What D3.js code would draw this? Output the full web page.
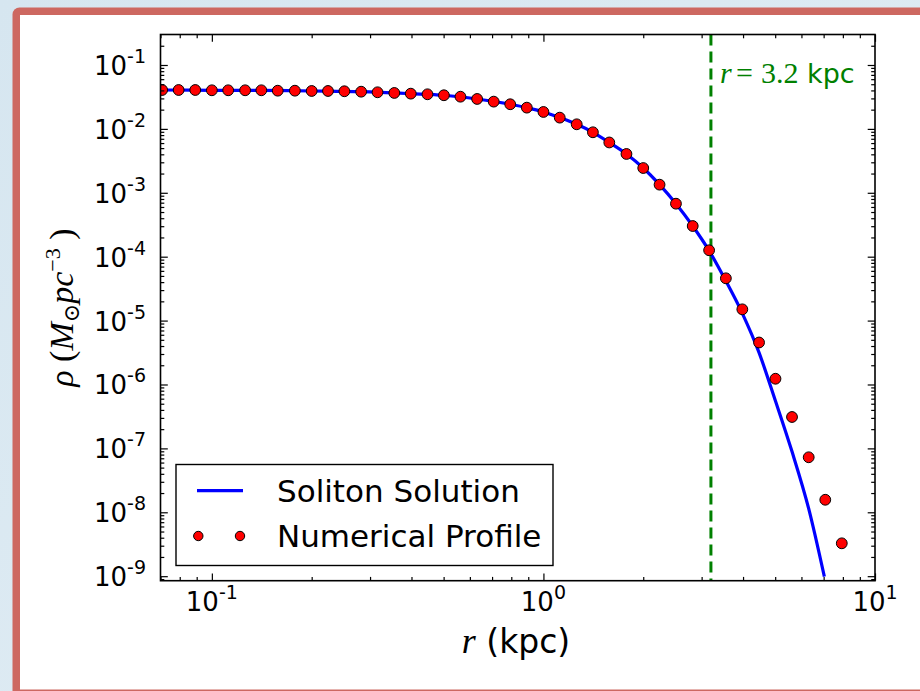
<!DOCTYPE html>
<html>
<head>
<meta charset="utf-8">
<script src="https://cdn.jsdelivr.net/npm/d3@7"></script>
<style>
  html, body { margin: 0; padding: 0; background: #dbe9f2; }
  svg { display: block; }
</style>
</head>
<body>
<svg id="chart" width="920" height="691"></svg>
<script>
// ---------------- data ----------------
const pointR = [0.0708, 0.0794, 0.0891, 0.1, 0.112, 0.126, 0.141, 0.158, 0.178, 0.2,
  0.224, 0.251, 0.282, 0.316, 0.355, 0.398, 0.447, 0.501, 0.562, 0.631,
  0.708, 0.794, 0.891, 1.0, 1.12, 1.26, 1.41, 1.58, 1.78, 2.0,
  2.24, 2.51, 2.82, 3.16, 3.55, 3.98, 4.47, 5.01, 5.62, 6.31, 7.08, 7.94];
const pointRho = [0.0406, 0.0406, 0.0406, 0.0402, 0.0402, 0.0402, 0.0402, 0.0396, 0.0396, 0.0392,
  0.0392, 0.0388, 0.0382, 0.0374, 0.0365, 0.0356, 0.0348, 0.0336, 0.0319, 0.0294,
  0.0267, 0.0243, 0.0215, 0.0184, 0.0150, 0.0118, 0.00885, 0.00613, 0.00405, 0.00244,
  0.00134, 6.75e-4, 3.02e-4, 1.26e-4, 4.59e-5, 1.50e-5, 4.54e-6, 1.23e-6, 3.10e-7, 7.26e-8, 1.57e-8, 3.27e-9];

const lineR = [0.063, 0.0708, 0.1, 0.141, 0.2, 0.282, 0.398, 0.501, 0.631, 0.794,
  0.891, 1.0, 1.12, 1.26, 1.41, 1.58, 1.78, 2.0, 2.24, 2.51, 2.82, 3.16,
  3.55, 3.98, 4.47, 5.01, 5.62, 6.31, 7.035];
const lineRho = [0.0406, 0.0406, 0.0402, 0.0400, 0.0392, 0.0382, 0.0356, 0.0336, 0.0294, 0.0243,
  0.0215, 0.0184, 0.0150, 0.0118, 0.00885, 0.00613, 0.00405, 0.00244, 0.00134, 6.75e-4, 3.02e-4, 1.24e-4,
  4.17e-5, 1.30e-5, 3.15e-6, 5.52e-7, 8.91e-8, 1.14e-8, 9.82e-10];

const xMajor = [0.1, 1, 10];
const xMajorExp = ["-1", "0", "1"];
const yMajor = [1e-1, 1e-2, 1e-3, 1e-4, 1e-5, 1e-6, 1e-7, 1e-8, 1e-9];
const yMajorExp = ["-1", "-2", "-3", "-4", "-5", "-6", "-7", "-8", "-9"];
const xDomain = [0.07, 10];
const yDomain = [8.5e-10, 0.3];
const cutR = 3.2;
const seriesNames = ["Soliton Solution", "Numerical Profile"];

// ---------------- layout ----------------
const svg = d3.select("#chart");
const M = { left: 160.5, right: 875, top: 34.5, bottom: 580.7 };

// background + framed panel
const defs = svg.append("defs");
const bg = defs.append("linearGradient").attr("id", "bgGrad").attr("x1", 0).attr("y1", 0).attr("x2", 1).attr("y2", 1);
bg.append("stop").attr("offset", "0%").attr("stop-color", "#d6e6f0");
bg.append("stop").attr("offset", "100%").attr("stop-color", "#e3eef5");
svg.append("rect").attr("width", 920).attr("height", 691).attr("fill", "url(#bgGrad)");
svg.append("rect").attr("x", 12.5).attr("y", 7.5).attr("width", 1000).attr("height", 690)
  .attr("rx", 7).attr("fill", "#cd6861");
svg.append("rect").attr("x", 20).attr("y", 15).attr("width", 1000).attr("height", 674.5)
  .attr("fill", "#ffffff");

const x = d3.scaleLog().domain(xDomain).range([M.left, M.right]);
const y = d3.scaleLog().domain(yDomain).range([M.bottom, M.top]);

defs.append("clipPath").attr("id", "plotClip").append("rect")
  .attr("x", M.left).attr("y", M.top).attr("width", M.right - M.left).attr("height", M.bottom - M.top);

const plot = svg.append("g").attr("clip-path", "url(#plotClip)");

// dashed vertical line r = 3.2 kpc
plot.append("line")
  .attr("x1", x(cutR)).attr("x2", x(cutR)).attr("y1", M.top).attr("y2", M.bottom)
  .attr("stroke", "#008000").attr("stroke-width", 3).attr("stroke-dasharray", "11,6");

// soliton line
const lineData = lineR.map((r, i) => [r, lineRho[i]]);
plot.append("path").datum(lineData)
  .attr("fill", "none").attr("stroke", "#0000ff").attr("stroke-width", 3.2)
  .attr("d", d3.line().x(d => x(d[0])).y(d => y(d[1])).curve(d3.curveMonotoneX));

// numerical points
const ptData = pointR.map((r, i) => [r, pointRho[i]]);
plot.selectAll("circle.pt").data(ptData).join("circle").attr("class", "pt")
  .attr("cx", d => x(d[0])).attr("cy", d => y(d[1])).attr("r", 5.4)
  .attr("fill", "#ff0000").attr("stroke", "#000").attr("stroke-width", 1);

// ---------------- axes (ticks inward on all sides) ----------------
function minorTicks(dom) {
  const out = [];
  const lo = Math.floor(Math.log10(dom[0])), hi = Math.ceil(Math.log10(dom[1]));
  for (let e = lo; e <= hi; e++) {
    for (let m = 2; m <= 9; m++) {
      const v = m * Math.pow(10, e);
      if (v >= dom[0] && v <= dom[1]) out.push(v);
    }
  }
  return out;
}
const xMinor = minorTicks(xDomain);
const yMinor = minorTicks(yDomain);
const majLen = 7.3, minLen = 3.8;

function styleAxis(g) {
  g.select(".domain").remove();
  g.selectAll(".tick line").attr("stroke", "#000").attr("stroke-width", 1.2);
  g.selectAll(".tick text").remove();
}
svg.append("g").attr("transform", `translate(0,${M.bottom})`)
  .call(d3.axisBottom(x).tickValues(xMajor).tickSize(-majLen).tickFormat("")).call(styleAxis);
svg.append("g").attr("transform", `translate(0,${M.bottom})`)
  .call(d3.axisBottom(x).tickValues(xMinor).tickSize(-minLen).tickFormat("")).call(styleAxis);
svg.append("g").attr("transform", `translate(0,${M.top})`)
  .call(d3.axisTop(x).tickValues(xMajor).tickSize(-majLen).tickFormat("")).call(styleAxis);
svg.append("g").attr("transform", `translate(0,${M.top})`)
  .call(d3.axisTop(x).tickValues(xMinor).tickSize(-minLen).tickFormat("")).call(styleAxis);
svg.append("g").attr("transform", `translate(${M.left},0)`)
  .call(d3.axisLeft(y).tickValues(yMajor).tickSize(-majLen).tickFormat("")).call(styleAxis);
svg.append("g").attr("transform", `translate(${M.left},0)`)
  .call(d3.axisLeft(y).tickValues(yMinor).tickSize(-minLen).tickFormat("")).call(styleAxis);
svg.append("g").attr("transform", `translate(${M.right},0)`)
  .call(d3.axisRight(y).tickValues(yMajor).tickSize(-majLen).tickFormat("")).call(styleAxis);
svg.append("g").attr("transform", `translate(${M.right},0)`)
  .call(d3.axisRight(y).tickValues(yMinor).tickSize(-minLen).tickFormat("")).call(styleAxis);

// frame
svg.append("rect").attr("x", M.left).attr("y", M.top)
  .attr("width", M.right - M.left).attr("height", M.bottom - M.top)
  .attr("fill", "none").attr("stroke", "#000").attr("stroke-width", 1.6);

// tick labels
const sans = "'DejaVu Sans', sans-serif";
xMajor.forEach((v, i) => {
  const t = svg.append("text").attr("x", x(v)).attr("y", 611).attr("text-anchor", "middle")
    .attr("font-family", sans).attr("font-size", 26).attr("fill", "#000");
  t.append("tspan").text("10");
  t.append("tspan").attr("font-size", 19).attr("dy", -12).text(xMajorExp[i]);
});
yMajor.forEach((v, i) => {
  const t = svg.append("text").attr("x", 146).attr("y", y(v) + 10).attr("text-anchor", "end")
    .attr("font-family", sans).attr("font-size", 26).attr("fill", "#000");
  t.append("tspan").text("10");
  t.append("tspan").attr("font-size", 19).attr("dy", -12).text(yMajorExp[i]);
});

// axis labels
const serif = "'Liberation Serif', 'DejaVu Serif', serif";
const xl = svg.append("text").attr("x", 516).attr("y", 653)
  .attr("text-anchor", "middle").attr("font-size", 33).attr("fill", "#000");
xl.append("tspan").attr("font-family", serif).attr("font-style", "italic").attr("font-size", 36).text("r");
xl.append("tspan").attr("font-family", sans).text(" (kpc)");

const yl = svg.append("text").attr("transform", `translate(73,${(M.top + M.bottom) / 2}) rotate(-90)`)
  .attr("text-anchor", "middle").attr("font-family", serif).attr("font-size", 34).attr("fill", "#000");
yl.append("tspan").attr("font-style", "italic").text("ρ");
yl.append("tspan").text(" (");
yl.append("tspan").attr("font-style", "italic").text("M");
yl.append("tspan").attr("font-size", 22).attr("dy", 6).text("⊙");
yl.append("tspan").attr("font-style", "italic").attr("dy", -6).text("pc");
yl.append("tspan").attr("font-size", 22).attr("dy", -13).text("−3");
yl.append("tspan").attr("dy", 13).text(" )");

// annotation
const an = svg.append("text").attr("y", 83).attr("fill", "#008000").attr("font-size", 30);
an.append("tspan").attr("x", 720).attr("font-family", serif).attr("font-style", "italic").text("r");
an.append("tspan").attr("x", 736).attr("font-family", serif).text("=");
an.append("tspan").attr("x", 761).attr("font-family", serif).text("3.2");
an.append("tspan").attr("x", 807).attr("font-family", sans).attr("font-size", 27).text("kpc");

// legend
const lg = svg.append("g");
lg.append("rect").attr("x", 176).attr("y", 464.5).attr("width", 377).attr("height", 101)
  .attr("fill", "#fff").attr("stroke", "#000").attr("stroke-width", 1.4);
lg.append("line").attr("x1", 197).attr("x2", 243).attr("y1", 490.7).attr("y2", 490.7)
  .attr("stroke", "#0000ff").attr("stroke-width", 3.2);
lg.selectAll("circle").data([198.3, 240]).join("circle")
  .attr("cx", d => d).attr("cy", 536).attr("r", 4.7)
  .attr("fill", "#ff0000").attr("stroke", "#000").attr("stroke-width", 1);
lg.selectAll("text").data(seriesNames).join("text")
  .attr("x", 277).attr("y", (d, i) => 502 + i * 45)
  .attr("font-family", sans).attr("font-size", 31).attr("fill", "#000").text(d => d);
</script>
</body>
</html>
